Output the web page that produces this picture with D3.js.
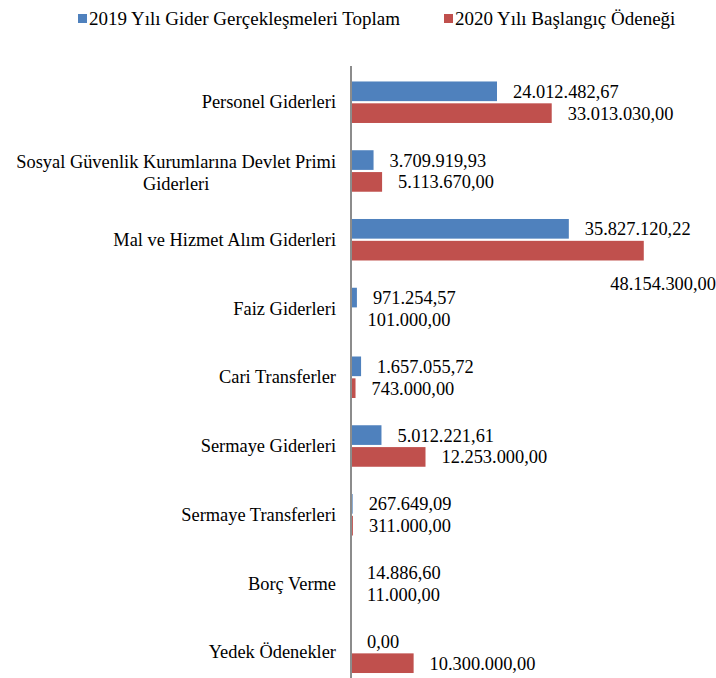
<!DOCTYPE html>
<html>
<head>
<meta charset="utf-8">
<script src="https://cdn.jsdelivr.net/npm/d3@7"></script>
<style>
  body { margin: 0; background: #fff; }
</style>
</head>
<body>
<svg id="chart" width="716" height="678"></svg>
<script>
// chart data
var categories = [
    "Personel Giderleri",
    "Sosyal Güvenlik Kurumlarına Devlet Primi|Giderleri",
    "Mal ve Hizmet Alım Giderleri",
    "Faiz Giderleri",
    "Cari Transferler",
    "Sermaye Giderleri",
    "Sermaye Transferleri",
    "Borç Verme",
    "Yedek Ödenekler"
];
var values2019 = [24012482.67, 3709919.93, 35827120.22, 971254.57, 1657055.72, 5012221.61, 267649.09, 14886.60, 0];
var values2020 = [33013030.00, 5113670.00, 48154300.00, 101000.00, 743000.00, 12253000.00, 311000.00, 11000.00, 10300000.00];
var seriesNames = ["2019 Yılı Gider Gerçekleşmeleri Toplam", "2020 Yılı Başlangıç Ödeneği"];
var seriesColors = ["#4F81BD", "#C0504D"];

var svg = d3.select("#chart");
var fontSize = 18.4;
var fontFamily = "Liberation Serif";

var trLocale = d3.formatLocale({decimal: ",", thousands: ".", grouping: [3], currency: ["", ""]});
var fmt = trLocale.format(",.2f");

// scales
var axisX = 351;
var x = d3.scaleLinear().domain([0, 50000000]).range([axisX, axisX + 304]);
var y = d3.scaleBand().domain(categories).range([67.6, 686.4]);
var inner = d3.scaleBand().domain([0, 1]).range([-20.5, 21]).paddingInner(0.1);

// legend
var legend = svg.append("g");
var legendPos = [78, 444];
seriesNames.forEach(function(name, i) {
    var g = legend.append("g").attr("transform", "translate(" + legendPos[i] + ",0)");
    g.append("rect").attr("x", 0).attr("y", 14).attr("width", 9).attr("height", 9).attr("fill", seriesColors[i]);
    g.append("text").attr("x", 11).attr("y", 25)
        .attr("font-family", fontFamily).attr("font-size", 19).text(name);
});

// bars
var rows = categories.map(function(c, i) {
    return {cat: c, vals: [values2019[i], values2020[i]]};
});

var groups = svg.selectAll("g.cat")
    .data(rows).enter()
    .append("g")
    .attr("class", "cat")
    .attr("transform", function(d) { return "translate(0," + (y(d.cat) + y.bandwidth() / 2) + ")"; });

groups.selectAll("rect")
    .data(function(d) { return d.vals; }).enter()
    .append("rect")
    .attr("x", axisX)
    .attr("y", function(d, i) { return inner(i); })
    .attr("width", function(d) { return x(d) - axisX; })
    .attr("height", inner.bandwidth())
    .attr("fill", function(d, i) { return seriesColors[i]; });

// value labels
groups.selectAll("text.val")
    .data(function(d) { return d.vals; }).enter()
    .append("text")
    .attr("class", "val")
    .attr("font-family", fontFamily)
    .attr("font-size", fontSize)
    .attr("x", function(d) { return x(d) + 16; })
    .attr("y", function(d, i) { return inner(i) + inner.bandwidth() / 2; })
    .attr("dy", "0.35em")
    .each(function(d, i) {
        // label that does not fit on the right is pushed under the bar
        if (x(d) + 16 + 110 > 716) {
            d3.select(this).attr("x", 716).attr("text-anchor", "end").attr("y", inner(i) + 43);
        }
    })
    .text(function(d) { return fmt(d); });

// category labels
groups.append("text")
    .attr("class", "cat-label")
    .attr("font-family", fontFamily)
    .attr("font-size", fontSize)
    .each(function(d) {
        var lines = d.cat.split("|");
        var t = d3.select(this);
        if (lines.length == 1) {
            t.attr("text-anchor", "end").attr("x", 336).attr("y", 0).attr("dy", "0.35em").text(lines[0]);
        }
        else {
            // wrapped label: second line centred under the first
            var first = t.append("tspan").attr("text-anchor", "end")
                .attr("x", 336).attr("y", -9.5).attr("dy", "0.35em").text(lines[0]);
            var w = first.node().getComputedTextLength();
            t.append("tspan").attr("text-anchor", "middle")
                .attr("x", 336 - w / 2).attr("y", 12.5).attr("dy", "0.35em").text(lines[1]);
        }
    });

// vertical axis line
svg.append("line")
    .attr("x1", axisX).attr("x2", axisX)
    .attr("y1", 66).attr("y2", 688)
    .attr("stroke", "#8c8c8c")
    .attr("stroke-width", 2);
</script>
</body>
</html>
